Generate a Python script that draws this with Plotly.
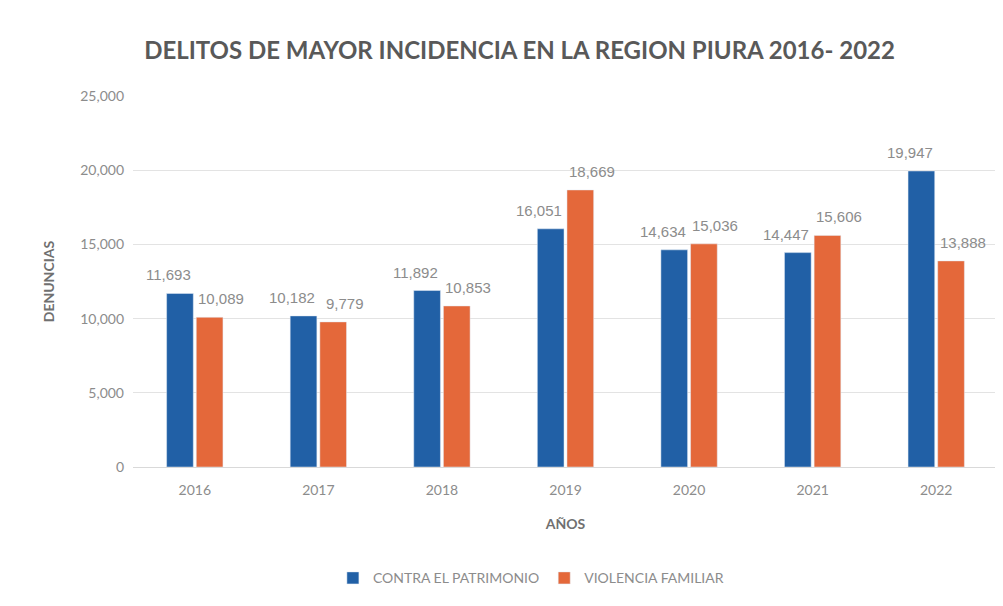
import plotly.graph_objects as go

years = ["2016", "2017", "2018", "2019", "2020", "2021", "2022"]
patrimonio = [11693, 10182, 11892, 16051, 14634, 14447, 19947]
violencia = [10089, 9779, 10853, 18669, 15036, 15606, 13888]
y_ticks = [0, 5000, 10000, 15000, 20000, 25000]

blue = "#2160A6"
orange = "#E4683A"
label_col = "#8C8C8C"
label_font = dict(family="Liberation Sans Narrow, Arial Narrow, sans-serif", size=15, color=label_col)

fig = go.Figure()
fig.add_trace(go.Bar(x=years, y=patrimonio, name="CONTRA EL PATRIMONIO",
                     marker_color=blue, offsetgroup="a"))
fig.add_trace(go.Bar(x=years, y=violencia, name="VIOLENCIA FAMILIAR",
                     marker_color=orange, offsetgroup="b"))

bar_off = 0.14  # half-distance between grouped bar centers, in category units
for i, yr in enumerate(years):
    fig.add_annotation(x=i - bar_off, y=patrimonio[i], xref="x", yref="y",
                       text=f"{patrimonio[i]:,}", showarrow=False, xshift=-9,
                       yanchor="bottom", yshift=8, font=label_font)
    fig.add_annotation(x=i + bar_off, y=violencia[i], xref="x", yref="y",
                       text=f"{violencia[i]:,}", showarrow=False, xshift=9,
                       yanchor="bottom", yshift=8, font=label_font)

fig.update_layout(
    width=1003, height=606,
    paper_bgcolor="white", plot_bgcolor="white",
    font=dict(family="Lato, Open Sans, sans-serif", color=label_col),
    title=dict(text="<b>DELITOS DE MAYOR INCIDENCIA EN LA REGION PIURA 2016- 2022</b>",
               x=0.51, xanchor="center", y=0.93, yanchor="middle",
               font=dict(size=24, color="#595959")),
    barmode="group", bargap=0.52, bargroupgap=0.1,
    margin=dict(l=125, r=13, t=88, b=147),
    xaxis=dict(title=dict(text="<b>AÑOS</b>", font=dict(size=14, color="#707070"), standoff=22),
               tickfont=dict(size=14, color=label_col), showline=True,
               linecolor="#D9D9D9", ticks="", ticklabelstandoff=10),
    yaxis=dict(title=dict(text="<b>DENUNCIAS</b>", font=dict(size=14, color="#707070"), standoff=22),
               range=[0, 25000], tickvals=y_ticks, tickformat=",",
               tickfont=dict(size=14, color=label_col), ticklabelstandoff=8,
               gridcolor="#E3E3E3", zeroline=False, showline=False),
    legend=dict(orientation="h", x=0.46, xanchor="center", y=-0.3, yanchor="middle",
                font=dict(size=14, color=label_col), traceorder="normal"),
)

fig.write_html("out.html")
